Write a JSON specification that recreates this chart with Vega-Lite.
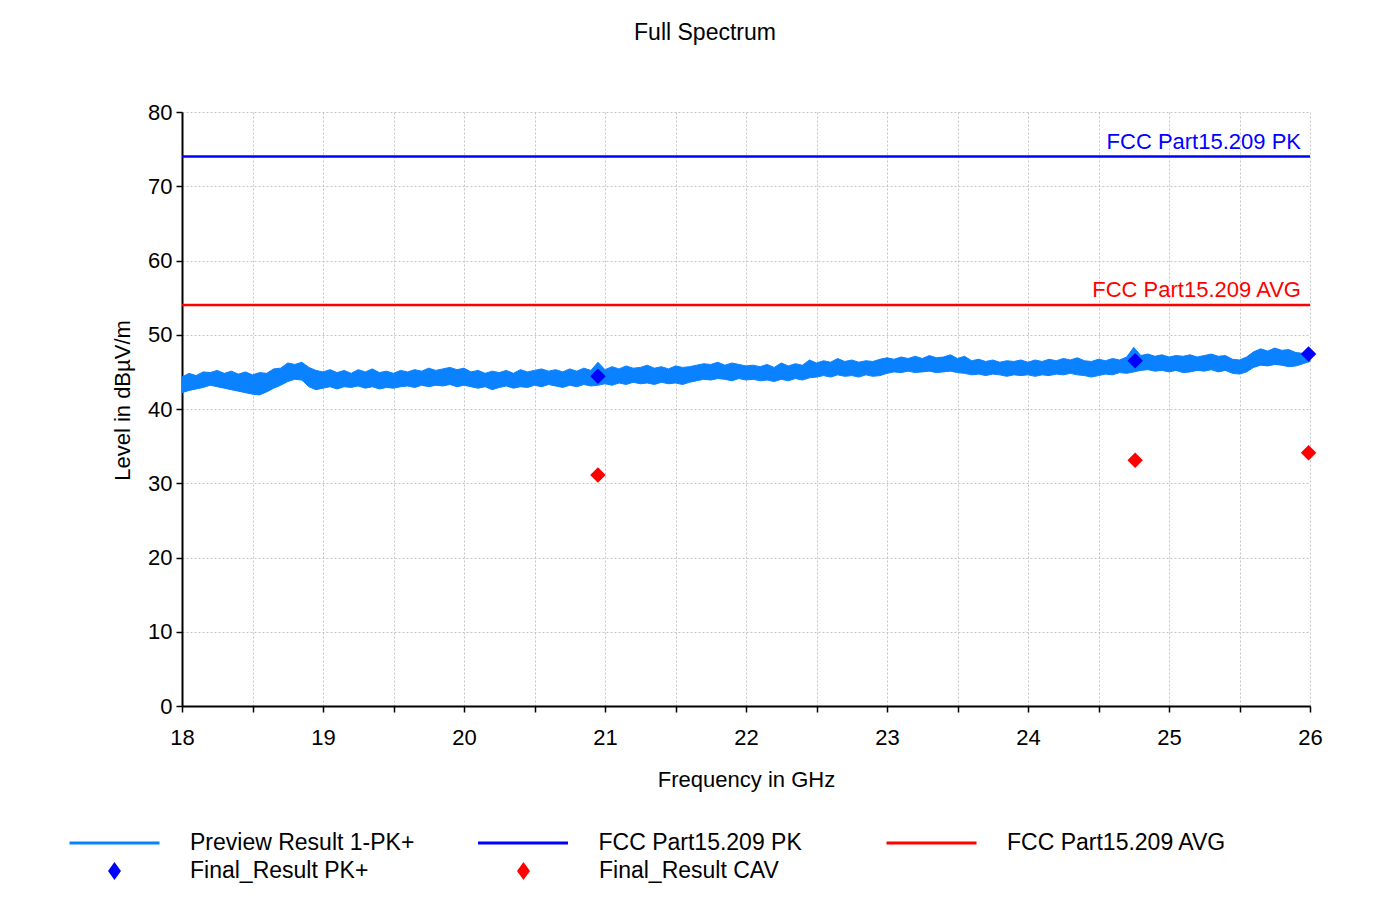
{
  "$schema": "https://vega.github.io/schema/vega-lite/v6.json",
  "width": 1128,
  "height": 594,
  "autosize": {"type": "none"},
  "padding": {"left": 182, "top": 112, "right": 87, "bottom": 192},
  "background": "white",
  "title": {"text": "Full Spectrum", "frame": "group", "anchor": "middle", "dx": -41, "offset": 38, "baseline": "alphabetic", "fontSize": 23, "font": "Liberation Sans", "fontWeight": "normal", "color": "black"},
  "config": {
    "view": {"stroke": null},
    "axis": {"domainColor": "black", "domainWidth": 2, "tickColor": "black", "tickWidth": 1.5, "tickSize": 6, "labelFont": "Liberation Sans", "labelFontSize": 22, "labelColor": "black", "titleFont": "Liberation Sans", "titleFontSize": 22, "titleFontWeight": "normal", "titleColor": "black", "gridColor": "#c4c4c4", "gridDash": [2, 2], "gridWidth": 1, "labelFlush": false, "labelOverlap": false},
    "axisX": {"labelPadding": 15, "titlePadding": 21},
    "axisY": {"labelPadding": 4, "titlePadding": 13, "titleY": 288},
    "legend": {"orient": "none", "direction": "horizontal", "gridAlign": "all", "rowPadding": 0, "clipHeight": 28, "labelFontSize": 23, "labelFont": "Liberation Sans", "labelColor": "black", "labelLimit": 400, "title": null, "padding": 0}
  },
  "datasets": {
    "trace": [
      {"f":18.00,"lo":42.2,"hi":44.3,"series":"Preview Result 1-PK+"},
      {"f":18.05,"lo":42.5,"hi":44.8,"series":"Preview Result 1-PK+"},
      {"f":18.10,"lo":42.7,"hi":44.5,"series":"Preview Result 1-PK+"},
      {"f":18.15,"lo":42.9,"hi":45.0,"series":"Preview Result 1-PK+"},
      {"f":18.20,"lo":43.2,"hi":44.9,"series":"Preview Result 1-PK+"},
      {"f":18.25,"lo":43.0,"hi":45.2,"series":"Preview Result 1-PK+"},
      {"f":18.30,"lo":42.8,"hi":44.8,"series":"Preview Result 1-PK+"},
      {"f":18.35,"lo":42.6,"hi":45.1,"series":"Preview Result 1-PK+"},
      {"f":18.40,"lo":42.4,"hi":44.7,"series":"Preview Result 1-PK+"},
      {"f":18.45,"lo":42.2,"hi":45.0,"series":"Preview Result 1-PK+"},
      {"f":18.50,"lo":42.0,"hi":44.6,"series":"Preview Result 1-PK+"},
      {"f":18.55,"lo":41.9,"hi":44.9,"series":"Preview Result 1-PK+"},
      {"f":18.60,"lo":42.3,"hi":44.8,"series":"Preview Result 1-PK+"},
      {"f":18.65,"lo":42.8,"hi":45.4,"series":"Preview Result 1-PK+"},
      {"f":18.70,"lo":43.2,"hi":45.5,"series":"Preview Result 1-PK+"},
      {"f":18.75,"lo":43.7,"hi":46.2,"series":"Preview Result 1-PK+"},
      {"f":18.80,"lo":44.0,"hi":46.0,"series":"Preview Result 1-PK+"},
      {"f":18.85,"lo":43.9,"hi":46.3,"series":"Preview Result 1-PK+"},
      {"f":18.90,"lo":43.0,"hi":45.6,"series":"Preview Result 1-PK+"},
      {"f":18.95,"lo":42.6,"hi":45.2,"series":"Preview Result 1-PK+"},
      {"f":19.00,"lo":42.8,"hi":45.0,"series":"Preview Result 1-PK+"},
      {"f":19.05,"lo":43.0,"hi":45.3,"series":"Preview Result 1-PK+"},
      {"f":19.10,"lo":42.7,"hi":44.9,"series":"Preview Result 1-PK+"},
      {"f":19.15,"lo":43.0,"hi":45.2,"series":"Preview Result 1-PK+"},
      {"f":19.20,"lo":42.9,"hi":44.8,"series":"Preview Result 1-PK+"},
      {"f":19.25,"lo":43.1,"hi":45.3,"series":"Preview Result 1-PK+"},
      {"f":19.30,"lo":42.8,"hi":45.0,"series":"Preview Result 1-PK+"},
      {"f":19.35,"lo":43.0,"hi":45.4,"series":"Preview Result 1-PK+"},
      {"f":19.40,"lo":42.7,"hi":44.9,"series":"Preview Result 1-PK+"},
      {"f":19.45,"lo":42.9,"hi":45.1,"series":"Preview Result 1-PK+"},
      {"f":19.50,"lo":42.8,"hi":44.8,"series":"Preview Result 1-PK+"},
      {"f":19.55,"lo":43.0,"hi":45.2,"series":"Preview Result 1-PK+"},
      {"f":19.60,"lo":43.1,"hi":45.0,"series":"Preview Result 1-PK+"},
      {"f":19.65,"lo":42.9,"hi":45.3,"series":"Preview Result 1-PK+"},
      {"f":19.70,"lo":43.2,"hi":45.1,"series":"Preview Result 1-PK+"},
      {"f":19.75,"lo":43.0,"hi":45.5,"series":"Preview Result 1-PK+"},
      {"f":19.80,"lo":43.2,"hi":45.2,"series":"Preview Result 1-PK+"},
      {"f":19.85,"lo":43.1,"hi":45.4,"series":"Preview Result 1-PK+"},
      {"f":19.90,"lo":43.3,"hi":45.6,"series":"Preview Result 1-PK+"},
      {"f":19.95,"lo":43.0,"hi":45.3,"series":"Preview Result 1-PK+"},
      {"f":20.00,"lo":43.2,"hi":45.5,"series":"Preview Result 1-PK+"},
      {"f":20.05,"lo":43.0,"hi":45.0,"series":"Preview Result 1-PK+"},
      {"f":20.10,"lo":42.8,"hi":45.2,"series":"Preview Result 1-PK+"},
      {"f":20.15,"lo":43.0,"hi":44.8,"series":"Preview Result 1-PK+"},
      {"f":20.20,"lo":42.6,"hi":45.1,"series":"Preview Result 1-PK+"},
      {"f":20.25,"lo":42.9,"hi":44.9,"series":"Preview Result 1-PK+"},
      {"f":20.30,"lo":43.1,"hi":45.2,"series":"Preview Result 1-PK+"},
      {"f":20.35,"lo":42.8,"hi":44.8,"series":"Preview Result 1-PK+"},
      {"f":20.40,"lo":43.0,"hi":45.3,"series":"Preview Result 1-PK+"},
      {"f":20.45,"lo":42.9,"hi":45.0,"series":"Preview Result 1-PK+"},
      {"f":20.50,"lo":43.2,"hi":45.2,"series":"Preview Result 1-PK+"},
      {"f":20.55,"lo":43.0,"hi":45.4,"series":"Preview Result 1-PK+"},
      {"f":20.60,"lo":43.3,"hi":45.1,"series":"Preview Result 1-PK+"},
      {"f":20.65,"lo":43.1,"hi":45.3,"series":"Preview Result 1-PK+"},
      {"f":20.70,"lo":42.9,"hi":45.0,"series":"Preview Result 1-PK+"},
      {"f":20.75,"lo":43.2,"hi":45.4,"series":"Preview Result 1-PK+"},
      {"f":20.80,"lo":43.0,"hi":45.1,"series":"Preview Result 1-PK+"},
      {"f":20.85,"lo":43.3,"hi":45.5,"series":"Preview Result 1-PK+"},
      {"f":20.90,"lo":43.1,"hi":45.2,"series":"Preview Result 1-PK+"},
      {"f":20.95,"lo":43.2,"hi":46.3,"series":"Preview Result 1-PK+"},
      {"f":21.00,"lo":43.4,"hi":45.3,"series":"Preview Result 1-PK+"},
      {"f":21.05,"lo":43.2,"hi":45.7,"series":"Preview Result 1-PK+"},
      {"f":21.10,"lo":43.5,"hi":45.4,"series":"Preview Result 1-PK+"},
      {"f":21.15,"lo":43.3,"hi":45.8,"series":"Preview Result 1-PK+"},
      {"f":21.20,"lo":43.6,"hi":45.5,"series":"Preview Result 1-PK+"},
      {"f":21.25,"lo":43.4,"hi":45.6,"series":"Preview Result 1-PK+"},
      {"f":21.30,"lo":43.5,"hi":45.9,"series":"Preview Result 1-PK+"},
      {"f":21.35,"lo":43.3,"hi":45.5,"series":"Preview Result 1-PK+"},
      {"f":21.40,"lo":43.6,"hi":45.7,"series":"Preview Result 1-PK+"},
      {"f":21.45,"lo":43.4,"hi":45.4,"series":"Preview Result 1-PK+"},
      {"f":21.50,"lo":43.5,"hi":45.8,"series":"Preview Result 1-PK+"},
      {"f":21.55,"lo":43.3,"hi":45.6,"series":"Preview Result 1-PK+"},
      {"f":21.60,"lo":43.6,"hi":45.7,"series":"Preview Result 1-PK+"},
      {"f":21.65,"lo":43.8,"hi":45.9,"series":"Preview Result 1-PK+"},
      {"f":21.70,"lo":44.0,"hi":46.1,"series":"Preview Result 1-PK+"},
      {"f":21.75,"lo":43.9,"hi":46.0,"series":"Preview Result 1-PK+"},
      {"f":21.80,"lo":44.1,"hi":46.3,"series":"Preview Result 1-PK+"},
      {"f":21.85,"lo":44.0,"hi":45.9,"series":"Preview Result 1-PK+"},
      {"f":21.90,"lo":43.8,"hi":46.2,"series":"Preview Result 1-PK+"},
      {"f":21.95,"lo":44.1,"hi":46.0,"series":"Preview Result 1-PK+"},
      {"f":22.00,"lo":43.9,"hi":45.8,"series":"Preview Result 1-PK+"},
      {"f":22.05,"lo":44.0,"hi":45.9,"series":"Preview Result 1-PK+"},
      {"f":22.10,"lo":43.8,"hi":45.7,"series":"Preview Result 1-PK+"},
      {"f":22.15,"lo":43.9,"hi":46.0,"series":"Preview Result 1-PK+"},
      {"f":22.20,"lo":43.7,"hi":45.6,"series":"Preview Result 1-PK+"},
      {"f":22.25,"lo":44.0,"hi":46.2,"series":"Preview Result 1-PK+"},
      {"f":22.30,"lo":43.8,"hi":45.8,"series":"Preview Result 1-PK+"},
      {"f":22.35,"lo":44.1,"hi":46.1,"series":"Preview Result 1-PK+"},
      {"f":22.40,"lo":43.9,"hi":45.9,"series":"Preview Result 1-PK+"},
      {"f":22.45,"lo":44.2,"hi":46.6,"series":"Preview Result 1-PK+"},
      {"f":22.50,"lo":44.3,"hi":46.2,"series":"Preview Result 1-PK+"},
      {"f":22.55,"lo":44.5,"hi":46.5,"series":"Preview Result 1-PK+"},
      {"f":22.60,"lo":44.3,"hi":46.3,"series":"Preview Result 1-PK+"},
      {"f":22.65,"lo":44.6,"hi":46.8,"series":"Preview Result 1-PK+"},
      {"f":22.70,"lo":44.4,"hi":46.4,"series":"Preview Result 1-PK+"},
      {"f":22.75,"lo":44.5,"hi":46.6,"series":"Preview Result 1-PK+"},
      {"f":22.80,"lo":44.3,"hi":46.3,"series":"Preview Result 1-PK+"},
      {"f":22.85,"lo":44.6,"hi":46.5,"series":"Preview Result 1-PK+"},
      {"f":22.90,"lo":44.4,"hi":46.4,"series":"Preview Result 1-PK+"},
      {"f":22.95,"lo":44.5,"hi":46.7,"series":"Preview Result 1-PK+"},
      {"f":23.00,"lo":44.8,"hi":46.9,"series":"Preview Result 1-PK+"},
      {"f":23.05,"lo":45.0,"hi":46.7,"series":"Preview Result 1-PK+"},
      {"f":23.10,"lo":44.9,"hi":47.0,"series":"Preview Result 1-PK+"},
      {"f":23.15,"lo":45.1,"hi":46.8,"series":"Preview Result 1-PK+"},
      {"f":23.20,"lo":44.9,"hi":47.1,"series":"Preview Result 1-PK+"},
      {"f":23.25,"lo":45.0,"hi":46.8,"series":"Preview Result 1-PK+"},
      {"f":23.30,"lo":45.1,"hi":47.2,"series":"Preview Result 1-PK+"},
      {"f":23.35,"lo":44.9,"hi":46.9,"series":"Preview Result 1-PK+"},
      {"f":23.40,"lo":45.0,"hi":47.0,"series":"Preview Result 1-PK+"},
      {"f":23.45,"lo":45.1,"hi":47.3,"series":"Preview Result 1-PK+"},
      {"f":23.50,"lo":44.9,"hi":46.8,"series":"Preview Result 1-PK+"},
      {"f":23.55,"lo":44.8,"hi":47.1,"series":"Preview Result 1-PK+"},
      {"f":23.60,"lo":44.6,"hi":46.5,"series":"Preview Result 1-PK+"},
      {"f":23.65,"lo":44.7,"hi":46.7,"series":"Preview Result 1-PK+"},
      {"f":23.70,"lo":44.5,"hi":46.4,"series":"Preview Result 1-PK+"},
      {"f":23.75,"lo":44.7,"hi":46.6,"series":"Preview Result 1-PK+"},
      {"f":23.80,"lo":44.6,"hi":46.3,"series":"Preview Result 1-PK+"},
      {"f":23.85,"lo":44.4,"hi":46.5,"series":"Preview Result 1-PK+"},
      {"f":23.90,"lo":44.6,"hi":46.4,"series":"Preview Result 1-PK+"},
      {"f":23.95,"lo":44.5,"hi":46.6,"series":"Preview Result 1-PK+"},
      {"f":24.00,"lo":44.6,"hi":46.3,"series":"Preview Result 1-PK+"},
      {"f":24.05,"lo":44.4,"hi":46.6,"series":"Preview Result 1-PK+"},
      {"f":24.10,"lo":44.6,"hi":46.4,"series":"Preview Result 1-PK+"},
      {"f":24.15,"lo":44.5,"hi":46.7,"series":"Preview Result 1-PK+"},
      {"f":24.20,"lo":44.7,"hi":46.5,"series":"Preview Result 1-PK+"},
      {"f":24.25,"lo":44.6,"hi":46.8,"series":"Preview Result 1-PK+"},
      {"f":24.30,"lo":44.8,"hi":46.6,"series":"Preview Result 1-PK+"},
      {"f":24.35,"lo":44.6,"hi":46.9,"series":"Preview Result 1-PK+"},
      {"f":24.40,"lo":44.5,"hi":46.5,"series":"Preview Result 1-PK+"},
      {"f":24.45,"lo":44.3,"hi":46.4,"series":"Preview Result 1-PK+"},
      {"f":24.50,"lo":44.5,"hi":46.7,"series":"Preview Result 1-PK+"},
      {"f":24.55,"lo":44.7,"hi":46.5,"series":"Preview Result 1-PK+"},
      {"f":24.60,"lo":44.6,"hi":46.8,"series":"Preview Result 1-PK+"},
      {"f":24.65,"lo":44.9,"hi":46.6,"series":"Preview Result 1-PK+"},
      {"f":24.70,"lo":44.8,"hi":47.0,"series":"Preview Result 1-PK+"},
      {"f":24.75,"lo":45.0,"hi":48.3,"series":"Preview Result 1-PK+"},
      {"f":24.80,"lo":45.2,"hi":47.2,"series":"Preview Result 1-PK+"},
      {"f":24.85,"lo":45.3,"hi":47.4,"series":"Preview Result 1-PK+"},
      {"f":24.90,"lo":45.1,"hi":47.1,"series":"Preview Result 1-PK+"},
      {"f":24.95,"lo":45.2,"hi":47.3,"series":"Preview Result 1-PK+"},
      {"f":25.00,"lo":45.0,"hi":47.0,"series":"Preview Result 1-PK+"},
      {"f":25.05,"lo":45.2,"hi":47.2,"series":"Preview Result 1-PK+"},
      {"f":25.10,"lo":44.9,"hi":47.1,"series":"Preview Result 1-PK+"},
      {"f":25.15,"lo":45.0,"hi":47.3,"series":"Preview Result 1-PK+"},
      {"f":25.20,"lo":45.2,"hi":47.0,"series":"Preview Result 1-PK+"},
      {"f":25.25,"lo":45.1,"hi":47.2,"series":"Preview Result 1-PK+"},
      {"f":25.30,"lo":45.3,"hi":47.4,"series":"Preview Result 1-PK+"},
      {"f":25.35,"lo":45.0,"hi":47.1,"series":"Preview Result 1-PK+"},
      {"f":25.40,"lo":45.2,"hi":47.2,"series":"Preview Result 1-PK+"},
      {"f":25.45,"lo":44.8,"hi":46.7,"series":"Preview Result 1-PK+"},
      {"f":25.50,"lo":44.7,"hi":46.6,"series":"Preview Result 1-PK+"},
      {"f":25.55,"lo":45.0,"hi":47.0,"series":"Preview Result 1-PK+"},
      {"f":25.60,"lo":45.6,"hi":47.7,"series":"Preview Result 1-PK+"},
      {"f":25.65,"lo":45.9,"hi":48.1,"series":"Preview Result 1-PK+"},
      {"f":25.70,"lo":45.8,"hi":47.8,"series":"Preview Result 1-PK+"},
      {"f":25.75,"lo":46.0,"hi":48.2,"series":"Preview Result 1-PK+"},
      {"f":25.80,"lo":45.9,"hi":47.9,"series":"Preview Result 1-PK+"},
      {"f":25.85,"lo":45.7,"hi":48.0,"series":"Preview Result 1-PK+"},
      {"f":25.90,"lo":45.8,"hi":47.6,"series":"Preview Result 1-PK+"},
      {"f":25.95,"lo":46.1,"hi":47.5,"series":"Preview Result 1-PK+"},
      {"f":26.00,"lo":46.4,"hi":47.8,"series":"Preview Result 1-PK+"}
    ],
    "limits": [
      {"f":18,"v":74,"series":"FCC Part15.209 PK"},
      {"f":26,"v":74,"series":"FCC Part15.209 PK"},
      {"f":18,"v":54,"series":"FCC Part15.209 AVG"},
      {"f":26,"v":54,"series":"FCC Part15.209 AVG"}
    ],
    "labels": [
      {"f":26,"v":74,"label":"FCC Part15.209 PK","series":"FCC Part15.209 PK"},
      {"f":26,"v":54,"label":"FCC Part15.209 AVG","series":"FCC Part15.209 AVG"}
    ],
    "finals": [
      {"f":20.95,"v":44.4,"series":"Final_Result PK+"},
      {"f":24.76,"v":46.5,"series":"Final_Result PK+"},
      {"f":25.99,"v":47.4,"series":"Final_Result PK+"},
      {"f":20.95,"v":31.1,"series":"Final_Result CAV"},
      {"f":24.76,"v":33.1,"series":"Final_Result CAV"},
      {"f":25.99,"v":34.1,"series":"Final_Result CAV"}
    ]
  },
  "encoding": {
    "x": {"field": "f", "type": "quantitative", "scale": {"domain": [18, 26], "nice": false, "zero": false},
      "axis": {"values": [18,18.5,19,19.5,20,20.5,21,21.5,22,22.5,23,23.5,24,24.5,25,25.5,26], "labelExpr": "datum.value % 1 === 0 ? format(datum.value, 'd') : ''", "title": "Frequency in GHz", "grid": true}}
  },
  "layer": [
    {
      "data": {"name": "trace"},
      "mark": {"type": "area", "fill": "#0a82ff", "strokeWidth": 1, "opacity": 1},
      "encoding": {
        "y": {"field": "lo", "type": "quantitative", "scale": {"domain": [0, 80], "nice": false},
          "axis": {"values": [0,5,10,15,20,25,30,35,40,45,50,55,60,65,70,75,80], "labelExpr": "datum.value % 10 === 0 ? format(datum.value, 'd') : ''", "grid": true}, "title": "Level in dBµV/m"},
        "y2": {"field": "hi"},
        "stroke": {"field": "series", "type": "nominal",
          "scale": {"domain": ["Preview Result 1-PK+", "FCC Part15.209 PK", "FCC Part15.209 AVG"], "range": ["#0a82ff", "#0000ff", "#ff0000"]},
          "legend": {"legendX": -114, "legendY": 717, "columns": 3, "columnPadding": 61.5, "symbolSize": 8100, "symbolType": "stroke", "symbolStrokeWidth": 3, "labelOffset": 29}
        }
      }
    },
    {
      "data": {"name": "limits"},
      "mark": {"type": "line", "strokeWidth": 2.5},
      "encoding": {
        "y": {"field": "v", "type": "quantitative", "title": "Level in dBµV/m"},
        "stroke": {"field": "series", "type": "nominal"}
      }
    },
    {
      "data": {"name": "finals"},
      "mark": {"type": "point", "shape": "diamond", "filled": true, "size": 240, "opacity": 1},
      "encoding": {
        "y": {"field": "v", "type": "quantitative", "title": "Level in dBµV/m"},
        "fill": {"field": "series", "type": "nominal",
          "scale": {"domain": ["Final_Result PK+", "Final_Result CAV"], "range": ["#0000ff", "#ff0000"]},
          "legend": {"legendX": -79, "legendY": 745, "columns": 2, "columnPadding": 142, "symbolSize": 324, "symbolType": "M0,-1L0.72,0L0,1L-0.72,0Z", "symbolStrokeWidth": 0, "labelOffset": 64}
        }
      }
    },
    {
      "data": {"name": "labels"},
      "mark": {"type": "text", "align": "right", "baseline": "alphabetic", "dx": -9, "dy": -8, "fontSize": 22, "font": "Liberation Sans"},
      "encoding": {
        "y": {"field": "v", "type": "quantitative", "title": "Level in dBµV/m"},
        "text": {"field": "label"},
        "color": {"condition": {"test": "datum.series === 'FCC Part15.209 PK'", "value": "#0000ff"}, "value": "#ff0000"}
      }
    }
  ]
}
